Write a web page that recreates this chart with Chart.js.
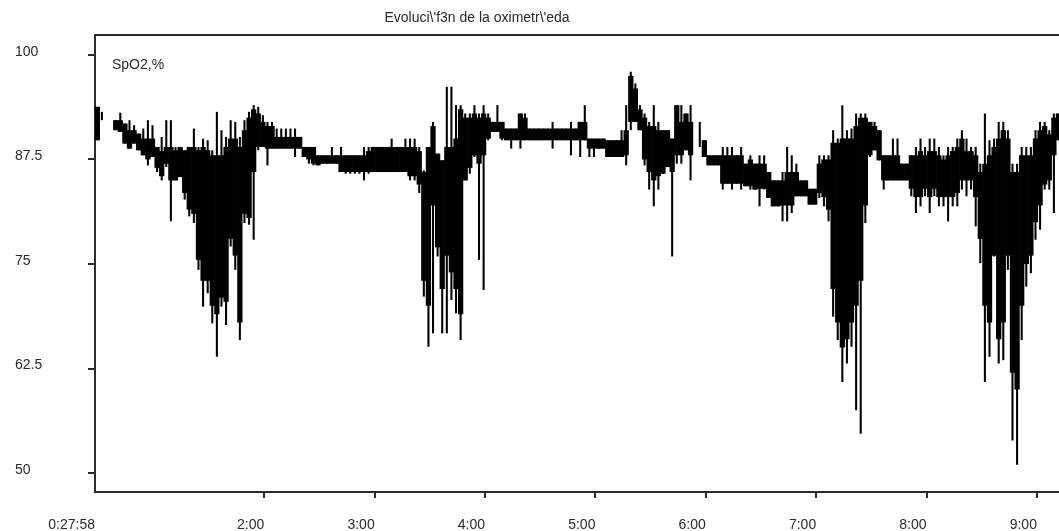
<!DOCTYPE html>
<html>
<head>
<meta charset="utf-8">
<script src="https://cdn.jsdelivr.net/npm/chart.js@4"></script>
<style>
  html, body { margin: 0; padding: 0; background: #fff; overflow: hidden; }
  #wrap { position: relative; width: 1059px; height: 531px; }
</style>
</head>
<body>
<div id="wrap"><canvas id="oxiChart" width="1059" height="531"></canvas></div>
<script>
// hora de inicio 0:27:58 en horas, y paso de cada muestra (2,5 min)
const startHour = 27 / 60 + 58 / 3600;
const stepHour = 1 / 24;
const endHour = 9.2;

// SpO2 minima y maxima de cada intervalo, picos incluidos (null = sin señal)
const spo2Min = [
  89.8, 92.2, null, null, 91.0, 90.8, 89.4, 88.8, 89.4, 88.6,
  88.0, 86.8, 87.8, 86.0, 85.0, 86.6, 80.1, 85.0, 85.4, 82.7,
  80.7, 79.9, 74.3, 69.9, 71.5, 67.9, 63.9, 69.9, 67.7, 77.1,
  74.3, 65.9, 79.9, 79.7, 77.9, 88.6, 89.0, 86.8, 88.8, 88.8,
  88.8, 88.8, 88.8, 87.8, 88.8, 87.8, 87.0, 86.8, 86.8, 87.0,
  87.0, 87.0, 87.0, 86.0, 85.8, 85.8, 85.8, 85.8, 85.0, 85.8,
  86.0, 86.0, 86.0, 86.0, 86.0, 86.0, 86.0, 86.0, 85.0, 85.0,
  83.5, 71.1, 65.1, 66.7, 75.9, 66.7, 66.7, 70.7, 69.1, 65.9,
  85.0, 85.8, 87.8, 75.5, 71.9, 89.8, 90.8, 90.8, 89.8, 89.8,
  88.8, 89.8, 88.8, 89.8, 89.8, 89.8, 89.8, 89.8, 89.8, 88.8,
  89.8, 89.8, 89.8, 88.0, 89.8, 87.8, 89.8, 87.8, 87.8, 88.8,
  88.8, 87.8, 87.8, 87.8, 87.8, 86.8, 91.0, 92.0, 91.0, 86.8,
  83.9, 81.9, 83.9, 85.8, 86.6, 75.9, 87.0, 87.0, 88.6, 85.0,
  null, 89.0, 87.8, 86.8, 86.8, 86.8, 83.9, 84.6, 83.9, 84.6,
  83.9, 84.3, 83.9, 83.9, 81.9, 83.9, 82.9, 81.9, 81.9, 80.1,
  80.1, 81.1, 83.1, 83.1, 83.1, 82.1, 82.1, 82.9, 81.9, 80.1,
  68.7, 65.9, 60.9, 63.1, 65.1, 57.5, 54.7, 79.9, 87.8, 88.6,
  87.4, 83.9, 85.0, 85.0, 85.0, 85.0, 85.0, 83.1, 81.1, 81.9,
  83.1, 81.1, 83.1, 81.9, 81.9, 80.1, 81.9, 81.9, 83.9, 83.1,
  83.9, 79.5, 75.1, 60.9, 63.9, 75.9, 63.1, 63.5, 74.3, 53.9,
  51.0, 65.9, 72.3, 73.9, 77.9, 79.1, 83.9, 83.9, 81.1, 89.8
];
const spo2Max = [
  93.8, 93.2, null, null, 92.2, 93.1, 91.8, 92.2, 91.6, 90.6,
  91.2, 92.2, 91.6, 89.0, 90.2, 92.2, 92.2, 89.0, 89.0, 88.6,
  89.0, 91.2, 89.0, 90.0, 89.8, 88.6, 93.2, 91.0, 90.2, 92.2,
  92.0, 90.2, 92.2, 93.2, 94.0, 93.8, 92.8, 92.0, 92.0, 91.2,
  91.2, 91.2, 91.2, 91.2, 90.2, 89.0, 89.0, 89.0, 88.0, 88.0,
  88.0, 89.0, 88.0, 89.0, 88.0, 88.0, 88.0, 88.0, 89.0, 89.0,
  89.0, 89.0, 89.0, 89.0, 90.0, 89.0, 89.0, 90.0, 90.0, 90.0,
  89.0, 86.2, 89.0, 92.0, 88.2, 87.4, 96.2, 96.2, 94.0, 94.0,
  93.0, 93.0, 94.0, 93.0, 94.0, 93.0, 92.0, 94.0, 92.0, 91.2,
  91.2, 91.2, 93.0, 93.0, 91.2, 91.2, 91.2, 91.2, 91.2, 92.0,
  91.2, 91.2, 91.2, 92.0, 91.2, 92.0, 94.0, 90.0, 90.0, 90.0,
  90.0, 89.8, 89.8, 89.8, 91.0, 94.0, 98.0, 96.6, 94.0, 93.0,
  92.0, 94.0, 92.0, 91.0, 91.0, 90.0, 94.0, 94.0, 93.0, 94.0,
  null, 92.0, 89.8, 88.0, 88.0, 88.0, 89.0, 89.0, 89.0, 88.0,
  89.0, 87.0, 88.0, 87.0, 88.0, 88.0, 86.0, 85.0, 85.0, 86.0,
  89.0, 88.0, 87.0, 85.0, 85.0, 84.0, 84.0, 88.0, 88.0, 88.0,
  91.0, 90.0, 94.0, 91.0, 91.2, 93.0, 93.0, 93.0, 92.0, 92.0,
  91.0, 88.0, 88.0, 90.0, 90.0, 87.0, 87.0, 88.0, 89.0, 90.0,
  89.0, 90.0, 90.0, 89.0, 88.0, 89.0, 89.0, 90.0, 91.0, 90.0,
  89.0, 89.0, 87.0, 93.0, 89.8, 90.0, 92.0, 92.0, 91.0, 87.0,
  87.0, 89.0, 89.0, 89.0, 91.0, 92.0, 92.0, 91.0, 93.0, 93.0
];

// banda densa de cada intervalo, sin los picos aislados
const coreMin = [
  89.8, null, null, null, 91.0, 90.8, 89.4, 88.8, 89.4, 88.6,
  88.0, 87.5, 87.8, 86.5, 85.5, 87.0, 85.0, 85.0, 85.4, 83.5,
  81.5, 81.0, 75.5, 73.0, 73.0, 70.0, 69.0, 71.0, 70.5, 78.0,
  76.0, 68.0, 81.0, 80.5, 86.0, 89.0, 89.0, 88.8, 88.8, 88.8,
  88.8, 88.8, 88.8, 88.8, 88.8, 87.8, 87.5, 87.0, 86.8, 87.0,
  87.0, 87.0, 87.0, 86.0, 86.0, 86.0, 86.0, 86.0, 86.0, 86.0,
  86.0, 86.0, 86.0, 86.0, 86.0, 86.0, 86.0, 86.0, 85.5, 85.5,
  84.5, 73.0, 70.0, 82.0, 77.0, 72.0, 76.0, 74.0, 72.0, 69.0,
  85.0, 86.5, 88.0, 87.0, 88.0, 90.0, 90.8, 90.8, 90.0, 89.8,
  89.8, 89.8, 89.8, 89.8, 89.8, 89.8, 89.8, 89.8, 89.8, 89.8,
  89.8, 89.8, 89.8, 89.8, 89.8, 89.8, 89.8, 88.8, 88.8, 88.8,
  88.8, 87.8, 87.8, 87.8, 87.8, 88.0, 92.0, 92.0, 91.0, 87.5,
  86.0, 85.0, 85.5, 85.8, 86.6, 86.0, 88.0, 88.0, 88.6, 88.0,
  null, null, 87.8, 86.8, 86.8, 86.8, 84.6, 84.6, 84.6, 84.6,
  84.6, 84.3, 84.3, 83.9, 84.0, 84.0, 82.9, 81.9, 81.9, 82.0,
  82.0, 82.0, 83.1, 83.1, 83.1, 82.1, 82.1, 83.5, 83.0, 81.5,
  72.0, 68.0, 65.0, 66.0, 68.0, 70.0, 73.0, 82.0, 88.0, 88.6,
  87.4, 85.0, 85.0, 85.0, 85.0, 85.0, 85.0, 84.0, 83.0, 83.0,
  84.0, 83.0, 84.0, 83.0, 83.0, 83.0, 83.0, 83.5, 85.0, 85.0,
  85.0, 83.0, 78.0, 70.0, 68.0, 76.0, 66.0, 68.0, 76.0, 62.0,
  60.0, 70.0, 75.0, 76.0, 80.0, 82.0, 84.5, 85.0, 88.0, 89.8
];
const coreMax = [
  93.8, null, null, null, 92.2, 92.2, 91.8, 91.0, 91.0, 90.6,
  90.0, 90.0, 90.0, 89.0, 88.5, 89.0, 89.0, 88.6, 89.0, 88.6,
  89.0, 89.0, 88.6, 89.0, 88.6, 88.0, 88.0, 88.0, 89.0, 90.0,
  90.0, 89.0, 91.0, 92.5, 93.5, 93.0, 92.0, 91.5, 91.5, 90.2,
  90.2, 90.2, 90.2, 90.2, 90.2, 89.0, 89.0, 89.0, 88.0, 88.0,
  88.0, 88.0, 88.0, 88.0, 88.0, 88.0, 88.0, 88.0, 88.0, 88.5,
  89.0, 89.0, 89.0, 89.0, 89.0, 89.0, 89.0, 89.0, 89.0, 89.0,
  88.5, 86.0, 89.0, 91.5, 88.2, 87.4, 89.0, 89.0, 90.0, 93.5,
  92.5, 92.5, 93.0, 92.5, 93.0, 92.5, 92.0, 92.0, 92.0, 91.2,
  91.2, 91.2, 93.0, 92.5, 91.2, 91.2, 91.2, 91.2, 91.2, 91.2,
  91.2, 91.2, 91.2, 91.2, 91.2, 92.0, 92.0, 90.0, 90.0, 90.0,
  90.0, 89.8, 89.8, 89.8, 89.8, 91.0, 97.5, 96.0, 93.5, 92.5,
  91.5, 91.5, 91.0, 91.0, 91.0, 90.0, 94.0, 92.0, 93.0, 92.0,
  null, null, 89.8, 88.0, 88.0, 88.0, 88.0, 88.0, 88.0, 88.0,
  88.0, 87.0, 87.5, 87.0, 87.0, 87.0, 86.0, 85.0, 85.0, 85.0,
  86.0, 86.0, 86.0, 85.0, 85.0, 84.0, 84.0, 87.0, 87.5, 87.5,
  89.5, 89.5, 90.0, 90.0, 90.0, 91.5, 92.5, 92.5, 92.0, 91.5,
  91.0, 88.0, 88.0, 88.0, 88.0, 87.0, 87.0, 88.0, 88.0, 88.5,
  88.0, 88.5, 88.5, 88.0, 87.5, 88.0, 88.5, 89.0, 90.0, 88.5,
  88.5, 88.0, 86.0, 87.0, 88.0, 89.0, 90.0, 91.0, 90.0, 86.0,
  86.0, 88.0, 88.0, 88.0, 90.0, 91.0, 91.5, 90.5, 92.5, 93.0
];

const yTicks = [50, 62.5, 75, 87.5, 100];
const yTickLabels = ['50', '62.5', '75', '87.5', '100'];
const xTicks = [startHour, 2, 3, 4, 5, 6, 7, 8, 9];
const xTickLabels = ['0:27:58', '2:00', '3:00', '4:00', '5:00', '6:00', '7:00', '8:00', '9:00'];

const titleText = "Evoluci\\'f3n de la oximetr\\'eda";
const seriesLabel = 'SpO2,%';

function rangePoints(lo, hi) {
    const out = [];
    for (let i = 0; i < lo.length; i++) {
        if (lo[i] === null) continue;
        out.push({ x: startHour + (i + 0.5) * stepHour, y: [lo[i], hi[i]] });
    }
    return out;
}

const axisColor = '#2b2b2b';
const textColor = '#2a2a2a';
const fontFamily = '"Liberation Sans", Arial, sans-serif';

// marco superior, titulo y etiqueta de la serie
const frameAndText = {
    id: 'frameAndText',
    afterDraw(chart) {
        const { ctx, chartArea } = chart;
        ctx.save();
        ctx.strokeStyle = axisColor;
        ctx.lineWidth = 2;
        ctx.beginPath();
        ctx.moveTo(chartArea.left - 1, chartArea.top);
        ctx.lineTo(chartArea.right, chartArea.top);
        ctx.stroke();

        ctx.fillStyle = textColor;
        ctx.font = '14px ' + fontFamily;
        ctx.textBaseline = 'middle';
        ctx.textAlign = 'center';
        ctx.fillText(titleText, 477, 18);
        ctx.textAlign = 'left';
        ctx.fillText(seriesLabel, chartArea.left + 17, 65);
        ctx.restore();
    }
};

new Chart(document.getElementById('oxiChart'), {
    type: 'bar',
    data: {
        datasets: [
            {
                label: seriesLabel,
                data: rangePoints(coreMin, coreMax),
                backgroundColor: '#000',
                borderWidth: 0,
                grouped: false,
                barPercentage: 1.15,
                categoryPercentage: 1
            },
            {
                label: seriesLabel + ' picos',
                data: rangePoints(spo2Min, spo2Max),
                backgroundColor: '#000',
                borderWidth: 0,
                grouped: false,
                barPercentage: 0.45,
                categoryPercentage: 1
            }
        ]
    },
    options: {
        responsive: false,
        animation: false,
        layout: { padding: { left: 15, top: 35, right: 0, bottom: 0 } },
        plugins: {
            legend: { display: false },
            tooltip: { enabled: false },
            title: { display: false }
        },
        scales: {
            x: {
                type: 'linear',
                min: startHour,
                max: endHour,
                offset: false,
                afterBuildTicks: s => { s.ticks = xTicks.map(v => ({ value: v })); },
                afterFit: s => { s.height = 39; },
                grid: {
                    offset: false,
                    drawOnChartArea: false,
                    drawTicks: true,
                    tickLength: 6,
                    color: c => (c.index === 0 ? 'rgba(0,0,0,0)' : axisColor),
                    lineWidth: 2
                },
                border: { display: true, color: axisColor, width: 2 },
                ticks: {
                    autoSkip: false,
                    maxRotation: 0,
                    align: 'end',
                    padding: 19,
                    color: textColor,
                    font: { family: fontFamily, size: 14 },
                    callback: (v, i) => xTickLabels[i]
                }
            },
            y: {
                min: 47.73,
                max: 102.39,
                afterBuildTicks: s => { s.ticks = yTicks.map(v => ({ value: v })); },
                afterFit: s => { s.width = 80; },
                grid: { drawOnChartArea: false, drawTicks: true, tickLength: 7, color: axisColor, lineWidth: 2 },
                border: { display: true, color: axisColor, width: 2 },
                ticks: {
                    crossAlign: 'far',
                    labelOffset: -3,
                    color: textColor,
                    font: { family: fontFamily, size: 14 },
                    callback: (v, i) => yTickLabels[i]
                }
            }
        }
    },
    plugins: [frameAndText]
});
</script>
</body>
</html>
